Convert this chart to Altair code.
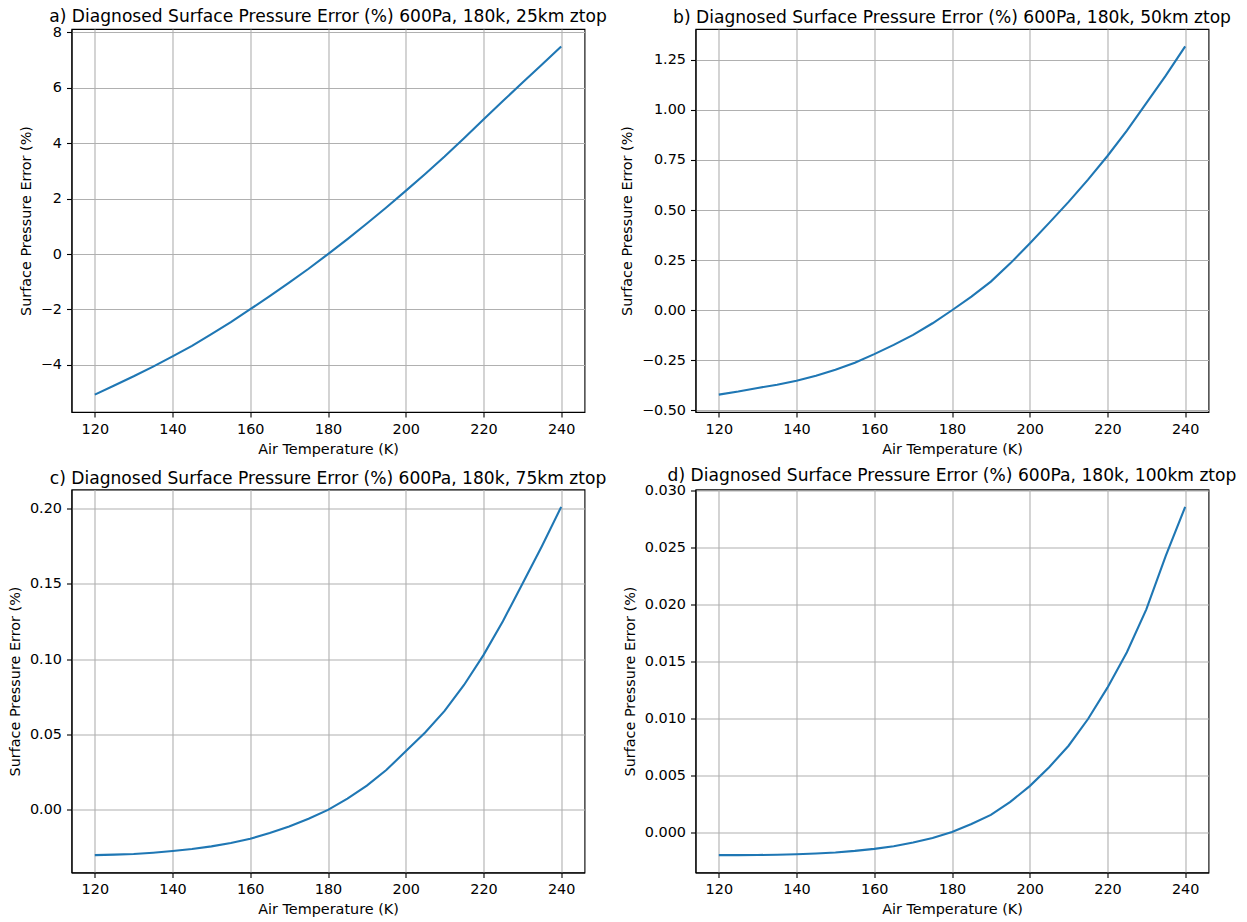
import altair as alt
import pandas as pd

# Air temperature samples (K)
temps = [120, 125, 130, 135, 140, 145, 150, 155, 160, 165, 170, 175, 180,
         185, 190, 195, 200, 205, 210, 215, 220, 225, 230, 235, 240]

# Diagnosed surface pressure error (%) for each model-top height
err_25km = [-5.07, -4.74, -4.41, -4.06, -3.69, -3.31, -2.89, -2.46, -1.99,
            -1.52, -1.03, -0.53, 0.0, 0.54, 1.10, 1.68, 2.28, 2.89, 3.52,
            4.18, 4.85, 5.52, 6.18, 6.83, 7.49]
err_50km = [-0.421, -0.406, -0.388, -0.372, -0.352, -0.327, -0.297, -0.262,
            -0.219, -0.173, -0.123, -0.065, 0.0, 0.068, 0.143, 0.234, 0.333,
            0.436, 0.541, 0.652, 0.770, 0.897, 1.034, 1.171, 1.317]
err_75km = [-0.0300, -0.0297, -0.0293, -0.0284, -0.0273, -0.0260, -0.0242,
            -0.0220, -0.0192, -0.0154, -0.0110, -0.0059, 0.0, 0.0075, 0.0161,
            0.0264, 0.0388, 0.0513, 0.0656, 0.0828, 0.1026, 0.1251, 0.1498,
            0.1747, 0.2009]
err_100km = [-0.00203, -0.00203, -0.00202, -0.00200, -0.00195, -0.00189,
             -0.00180, -0.00166, -0.00148, -0.00125, -0.00093, -0.00052, 0.0,
             0.00070, 0.00151, 0.00265, 0.00404, 0.00570, 0.00759, 0.00994,
             0.01270, 0.01581, 0.01959, 0.02430, 0.02860]

titles = [
    "a) Diagnosed Surface Pressure Error (%) 600Pa, 180k, 25km ztop",
    "b) Diagnosed Surface Pressure Error (%) 600Pa, 180k, 50km ztop",
    "c) Diagnosed Surface Pressure Error (%) 600Pa, 180k, 75km ztop",
    "d) Diagnosed Surface Pressure Error (%) 600Pa, 180k, 100km ztop",
]
x_ticks = [120, 140, 160, 180, 200, 220, 240]
y_ticks = [
    [-4, -2, 0, 2, 4, 6, 8],
    [-0.50, -0.25, 0.0, 0.25, 0.50, 0.75, 1.00, 1.25],
    [0.00, 0.05, 0.10, 0.15, 0.20],
    [0.000, 0.005, 0.010, 0.015, 0.020, 0.025, 0.030],
]
y_formats = ["d", ".2f", ".2f", ".3f"]
series = [err_25km, err_50km, err_75km, err_100km]
# title offsets compensate for tick labels that reach above the plot frame
title_offsets = [-14.8, -11.5, -11.5, -15.2]

LINE = "#1f77b4"
W, H = 513, 383


def padded(vals, frac=0.05):
    lo, hi = min(vals), max(vals)
    m = (hi - lo) * frac
    return [lo - m, hi + m]


def panel(title, values, ticks, fmt, title_offset):
    df = pd.DataFrame({"T": temps, "err": values})
    return (
        alt.Chart(df, title=alt.Title(title, frame="group", anchor="middle",
                                      baseline="alphabetic", offset=title_offset,
                                      fontSize=17.1, fontWeight="normal",
                                      color="black", font="DejaVu Sans"))
        .mark_line(color=LINE, strokeWidth=2.1)
        .encode(
            x=alt.X("T:Q",
                    scale=alt.Scale(domain=padded(temps), nice=False, zero=False),
                    axis=alt.Axis(values=x_ticks, format="d",
                                  title="Air Temperature (K)")),
            y=alt.Y("err:Q",
                    scale=alt.Scale(domain=padded(values), nice=False, zero=False),
                    axis=alt.Axis(values=ticks, format=fmt,
                                  title="Surface Pressure Error (%)")),
        )
        .properties(width=W, height=H)
    )


charts = [panel(t, s, yt, f, o)
          for t, s, yt, f, o in zip(titles, series, y_ticks, y_formats, title_offsets)]

chart = (
    alt.concat(*charts, columns=2, spacing={"row": 77.5, "column": 111},
               bounds="flush")
    .properties(padding={"left": 6.5, "top": 7, "right": 5, "bottom": 5},
                background="white")
    .configure(font="DejaVu Sans")
    .configure_view(stroke="black", strokeWidth=1.1)
    .configure_axis(
        grid=True, gridColor="#b0b0b0", gridWidth=1.1, gridOpacity=1,
        domainColor="black", domainWidth=1.1,
        tickColor="black", tickWidth=1.1, tickSize=5,
        labelFont="DejaVu Sans", labelFontSize=14.4, labelColor="black",
        labelPadding=5,
        titleFont="DejaVu Sans", titleFontSize=14.4, titleFontWeight="normal",
        titleColor="black", titlePadding=7,
    )
)

chart.save("out.html", embed_options={"renderer": "svg", "actions": False})
